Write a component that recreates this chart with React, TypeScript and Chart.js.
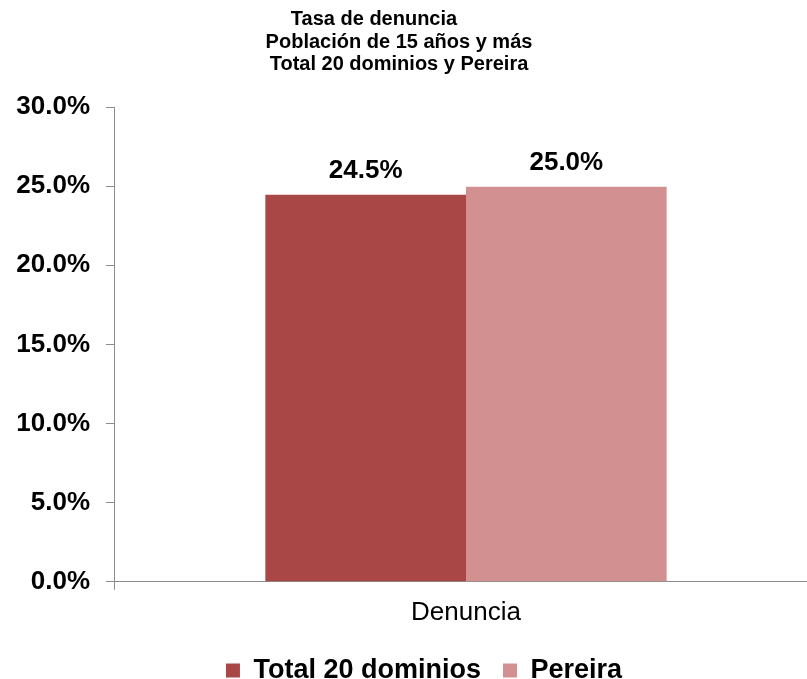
import React, { useEffect, useRef } from "react";
import { Chart, registerables } from "chart.js";

Chart.register(...registerables);

const categories = ["Denuncia"];
const seriesNames = ["Total 20 dominios", "Pereira"];
const totalValues = [24.46];
const pereiraValues = [24.96];
const seriesColors = ["#A84746", "#D39090"];
const titleLines = ["Tasa de denuncia         ", "Población de 15 años y más", "Total 20 dominios y Pereira"];
const yTicks = [0, 5, 10, 15, 20, 25, 30];

const FONT = "'Liberation Sans', Arial, sans-serif";

const titlePlugin = {
  id: "customTitle",
  afterDraw(chart: any) {
    const ctx = chart.ctx;
    ctx.save();
    ctx.font = `bold 20px ${FONT}`;
    ctx.fillStyle = "#000";
    ctx.textAlign = "center";
    ctx.textBaseline = "alphabetic";
    titleLines.forEach((line, i) => {
      ctx.fillText(line, 399, 25 + i * 22.5);
    });
    ctx.restore();
  },
};

const legendShiftPlugin = {
  id: "legendShift",
  afterLayout(chart: any) {
    if (chart.legend) {
      chart.legend.left = 30;
    }
  },
};

const dataLabelPlugin = {
  id: "dataLabels",
  afterDatasetsDraw(chart: any) {
    const ctx = chart.ctx;
    ctx.save();
    ctx.font = `bold 26px ${FONT}`;
    ctx.fillStyle = "#000";
    ctx.textAlign = "center";
    ctx.textBaseline = "alphabetic";
    chart.data.datasets.forEach((ds: any, di: number) => {
      const meta = chart.getDatasetMeta(di);
      meta.data.forEach((bar: any, i: number) => {
        const v = ds.data[i] as number;
        ctx.fillText(v.toFixed(1) + "%", bar.x, bar.y - 17);
      });
    });
    ctx.restore();
  },
};

export default function App() {
  const ref = useRef<HTMLCanvasElement | null>(null);
  useEffect(() => {
    if (!ref.current) return;
    const chart = new Chart(ref.current, {
      type: "bar",
      data: {
        labels: categories,
        datasets: [
          {
            label: seriesNames[0],
            data: totalValues,
            backgroundColor: seriesColors[0],
            barPercentage: 1,
            categoryPercentage: 0.57,
          },
          {
            label: seriesNames[1],
            data: pereiraValues,
            backgroundColor: seriesColors[1],
            barPercentage: 1,
            categoryPercentage: 0.57,
          },
        ],
      },
      options: {
        responsive: false,
        animation: false,
        layout: { padding: { top: 107, left: 0, right: 2, bottom: 6 } },
        plugins: {
          title: { display: false },
          tooltip: { enabled: false },
          legend: {
            display: true,
            position: "bottom",
            labels: {
              boxWidth: 14,
              boxHeight: 14,
              padding: 22,
              color: "#000",
              font: { family: FONT, size: 27, weight: "bold" },
            },
          },
        },
        scales: {
          x: {
            type: "category",
            offset: true,
            grid: {
              offset: true,
              drawOnChartArea: false,
              drawTicks: true,
              tickLength: 8,
              color: "#8c8c8c",
            },
            border: { color: "#8c8c8c", width: 1 },
            ticks: {
              color: "#000",
              padding: 7,
              font: { family: FONT, size: 26 },
            },
          },
          y: {
            min: yTicks[0],
            max: yTicks[yTicks.length - 1],
            afterFit(scale: any) {
              scale.width = 114;
            },
            afterBuildTicks(scale: any) {
              scale.ticks = yTicks.map((v) => ({ value: v }));
            },
            grid: {
              drawOnChartArea: false,
              drawTicks: true,
              tickLength: 8,
              color: "#8c8c8c",
            },
            border: { color: "#8c8c8c", width: 1 },
            ticks: {
              color: "#000",
              padding: 16,
              font: { family: FONT, size: 26, weight: "bold" },
              callback: (v: any) => Number(v).toFixed(1) + "%",
            },
          },
        },
      },
      plugins: [titlePlugin, dataLabelPlugin, legendShiftPlugin],
    });
    return () => chart.destroy();
  }, []);

  return (
    <div
      style={{
        position: "fixed",
        left: 0,
        top: 0,
        width: 807,
        height: 679,
        overflow: "hidden",
        background: "#fff",
      }}
    >
      <canvas ref={ref} width={820} height={700} style={{ display: "block", width: 820, height: 700 }} />
    </div>
  );
}
